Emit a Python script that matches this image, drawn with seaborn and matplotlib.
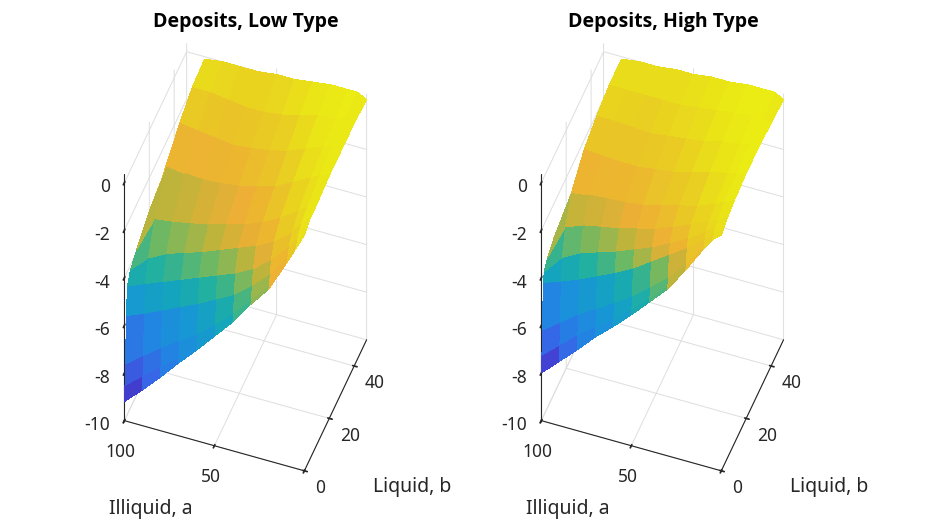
import numpy as np
import matplotlib
matplotlib.use("Agg")
import matplotlib.pyplot as plt
from matplotlib.colors import LinearSegmentedColormap, Normalize
import seaborn as sns

sns.set_theme(style="white")
plt.rcParams['font.family'] = ['Noto Sans', 'DejaVu Sans']
plt.rcParams['grid.color'] = '#dedede'
plt.rcParams['grid.linewidth'] = 0.7
plt.rcParams['axes.unicode_minus'] = False

# grid of the policy function (nonuniform)
illiquid_a = [0, 5, 10, 20, 30, 40, 50, 60, 70, 80, 90, 100]
liquid_b = [0, 0.5, 1, 1.6, 2.5, 5, 10, 20, 30, 40, 50]

# one row per liquid_b value, columns follow illiquid_a
deposits_low = [
    [-0.1, -0.8, -1.5, -2.8, -3.65, -4.6, -5.4, -6.2, -6.95, -7.75, -8.5, -9.2],
    [-0.1, -0.8, -1.5, -2.8, -3.65, -4.6, -5.4, -6.1, -6.75, -7.35, -7.95, -8.57],
    [-0.1, -0.8, -1.5, -2.7, -3.5, -4.3, -5.0, -5.6, -6.1, -6.6, -7.15, -7.73],
    [0.0, -0.7, -1.3, -2.3, -3.0, -3.6, -4.0, -4.4, -4.75, -5.1, -5.45, -5.76],
    [0.0, -0.5, -1.0, -1.8, -2.4, -2.8, -3.1, -3.4, -3.7, -4.0, -4.3, -4.62],
    [0.1, -0.3, -0.7, -1.3, -1.7, -2.0, -2.3, -2.6, -2.85, -3.1, -3.5, -4.2],
    [0.1, -0.1, -0.4, -0.9, -1.3, -1.6, -1.8, -2.0, -2.15, -2.3, -2.4, -3.9],
    [0.2, 0.1, -0.1, -0.5, -0.9, -1.1, -1.3, -1.4, -1.45, -1.4, -1.3, -3.4],
    [0.2, 0.2, 0.1, -0.2, -0.5, -0.7, -0.8, -0.9, -0.8, -0.7, -0.6, -3.15],
    [0.2, 0.3, 0.2, 0.1, -0.1, -0.3, -0.4, -0.4, -0.3, -0.2, -0.2, -2.85],
    [0.1, 0.3, 0.3, 0.3, 0.2, 0.1, 0.1, 0.0, 0.0, 0.0, -0.1, -2.7],
]

deposits_high = [
    [-0.1, -0.4, -0.9, -2.0, -3.0, -3.75, -4.5, -5.2, -5.85, -6.6, -7.3, -8.0],
    [-0.1, -0.4, -0.9, -2.0, -2.9, -3.6, -4.3, -4.9, -5.45, -6.0, -6.65, -7.3],
    [-0.1, -0.4, -0.8, -1.8, -2.6, -3.2, -3.8, -4.3, -4.75, -5.2, -5.75, -6.3],
    [0.0, -0.3, -0.6, -1.2, -1.7, -2.2, -2.7, -3.1, -3.45, -3.8, -4.1, -4.37],
    [0.0, -0.2, -0.4, -0.9, -1.3, -1.7, -2.0, -2.3, -2.55, -2.8, -3.2, -4.0],
    [0.1, -0.1, -0.3, -0.6, -0.9, -1.2, -1.4, -1.6, -1.75, -1.9, -2.2, -3.7],
    [0.2, 0.1, -0.1, -0.4, -0.6, -0.8, -1.0, -1.1, -1.15, -1.2, -1.3, -3.45],
    [0.3, 0.2, 0.1, -0.1, -0.3, -0.5, -0.6, -0.7, -0.7, -0.65, -0.6, -3.38],
    [0.3, 0.3, 0.2, 0.1, -0.1, -0.2, -0.3, -0.4, -0.35, -0.3, -0.3, -3.35],
    [0.2, 0.3, 0.3, 0.2, 0.1, 0.0, -0.1, -0.1, -0.1, -0.1, -0.1, -3.3],
    [0.1, 0.3, 0.3, 0.3, 0.2, 0.2, 0.1, 0.1, 0.0, 0.0, -0.1, -3.3],
]

titles = ['Deposits, Low Type', 'Deposits, High Type']
z_ticks = [-10, -8, -6, -4, -2, 0]
a_ticks = [0, 50, 100]
a_ticklabels = ['', '50', '100']
b_ticks = [0, 20, 40]

# MATLAB-like parula
parula = LinearSegmentedColormap.from_list('parula', [
    (0.00, (0.242, 0.150, 0.660)),
    (0.08, (0.275, 0.270, 0.880)),
    (0.15, (0.230, 0.420, 0.960)),
    (0.25, (0.150, 0.540, 0.950)),
    (0.36, (0.100, 0.620, 0.900)),
    (0.48, (0.080, 0.690, 0.780)),
    (0.56, (0.150, 0.740, 0.650)),
    (0.64, (0.450, 0.770, 0.420)),
    (0.72, (0.780, 0.750, 0.250)),
    (0.80, (0.990, 0.730, 0.220)),
    (0.90, (0.970, 0.840, 0.150)),
    (1.00, (0.977, 0.984, 0.081)),
])

AX_COLOR = '#262626'


def draw_panel(fig, rect, deposits):
    ax = fig.add_axes(rect, projection='3d')
    bb, aa = np.meshgrid(liquid_b, illiquid_a)
    zz = np.array(deposits).T
    norm = Normalize(zz.min(), zz.max())
    colors = parula(norm(zz))
    colors[..., :3] *= 0.94  # dense mesh lines darken the faces a bit
    ax.plot_surface(bb, aa, zz, facecolors=colors, shade=False,
                    linewidth=0, antialiased=False)

    ax.set_proj_type('ortho')
    ax.view_init(elev=50, azim=-160)
    ax.set_box_aspect((182, 191.5, 383), zoom=0.996)
    ax.set_xlim(0, 50)
    ax.set_ylim(0, 100)
    ax.set_zlim(-10, 0.35)
    ax.set_xticks(b_ticks)
    ax.set_yticks(a_ticks)
    ax.set_yticklabels(a_ticklabels)
    ax.set_zticks(z_ticks)
    ax.tick_params(labelsize=12.5, colors=AX_COLOR, pad=2)
    # MATLAB puts these labels beside the ticks, not under them
    plt.setp(ax.get_zticklabels(), ha='right', va='center')
    plt.setp(ax.get_xticklabels(), ha='left', va='center')

    for axis in (ax.xaxis, ax.yaxis, ax.zaxis):
        axis.set_pane_color((1, 1, 1, 0))
        axis.pane.set_edgecolor('#dedede')
        axis.line.set_color(AX_COLOR)
        axis.line.set_linewidth(0.8)
    return ax


fig = plt.figure(figsize=(9.45, 5.31), dpi=100)
panels = [([0.0133, 0.0293, 0.48, 0.95], deposits_low, 0.0),
          ([0.4545, 0.0293, 0.48, 0.95], deposits_high, 417 / 945)]
for (rect, deposits, dx), title in zip(panels, titles):
    draw_panel(fig, rect, deposits)
    fig.text(0.2603 + dx, 0.9586, title, ha='center', va='center',
             fontsize=14, fontweight='bold', color='black',
             family=['Open Sans', 'Noto Sans', 'DejaVu Sans'])
    fig.text(0.1598 + dx, 0.0414, 'Illiquid, a', ha='center', va='center',
             fontsize=14, color=AX_COLOR)
    fig.text(0.4360 + dx, 0.0829, 'Liquid, b', ha='center', va='center',
             fontsize=14, color=AX_COLOR)

fig.savefig('out.png', dpi=100)
